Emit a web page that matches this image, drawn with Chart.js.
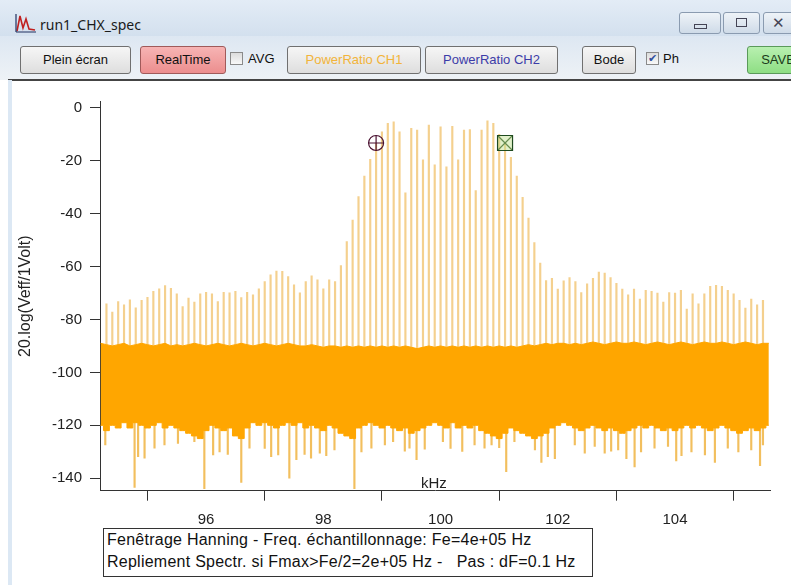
<!DOCTYPE html>
<html>
<head>
<meta charset="utf-8">
<script src="https://cdn.jsdelivr.net/npm/chart.js@4.4.0/dist/chart.umd.min.js"></script>
<style>
  body { margin: 0; width: 791px; height: 585px; overflow: hidden; background: #fff;
         font-family: "Liberation Sans", Arial, sans-serif; position: relative; }
  .abs { position: absolute; }
  #titlebar { left: 0; top: 0; width: 791px; height: 36px;
              background: linear-gradient(#e3ecf6, #d3e0ee); }
  #toolbar { left: 0; top: 36px; width: 791px; height: 44px; background: linear-gradient(#dde7f2, #eef2f6); }
  #title { left: 40px; top: 15px; font-size: 14px; color: #1a1a1a; font-family: "Noto Sans", "DejaVu Sans", sans-serif; }
  .btn { position: absolute; top: 46px; height: 26px; border: 1px solid #707070; border-radius: 3px;
         background: linear-gradient(#f6f6f6, #dedede); font-size: 13px; text-align: center; line-height: 26px; color: #111; }
  .chk { position: absolute; top: 52px; width: 11px; height: 11px; border: 1px solid #8a8a8a;
         background: linear-gradient(#dcdcdc, #f8f8f8); font-size: 11px; line-height: 11px; text-align: center; color: #3050a0; }
  .lbl { position: absolute; top: 51px; font-size: 13px; color: #111; }
  .winbtn { position: absolute; top: 12px; height: 20px; border: 1px solid #8a9bb0; border-radius: 3px;
            background: linear-gradient(#eef3f8, #cfdbe8); }
  #frame { left: 8px; top: 80px; width: 4px; height: 505px; background: #dce8f4; }
  #sep { left: 8px; top: 79px; width: 783px; height: 2px; background: #444; }
  #khz { left: 421px; top: 474px; font-size: 15px; color: #222; }
  #info { left: 103px; top: 528px; width: 485px; height: 47px; border: 1px solid #333; background: #fff;
          font-size: 16px; line-height: 22px; padding-left: 3px; color: #111; white-space: pre; letter-spacing: 0.25px; }
  canvas { position: absolute; left: 0; top: 80px; }
</style>
</head>
<body>
<div id="titlebar" class="abs"></div>
<div id="toolbar" class="abs"></div>
<svg class="abs" style="left:15px;top:13px" width="22" height="20" viewBox="0 0 22 20">
  <path d="M2 18 L5 3 L8 15 L11 6 L14 16 L20 17" stroke="#c02020" stroke-width="1.6" fill="none"/>
  <path d="M1 19 L21 19 M1 1 L1 19" stroke="#203060" stroke-width="1.2"/>
</svg>
<div id="title" class="abs">run1_CHX_spec</div>
<div class="winbtn" style="left:679px;width:40px"><div style="position:absolute;left:14px;top:11px;width:11px;height:3px;border:1px solid #445"></div></div>
<div class="winbtn" style="left:723px;width:35px"><div style="position:absolute;left:12px;top:5px;width:9px;height:7px;border:1px solid #445"></div></div>
<div class="winbtn" style="left:763px;width:40px"><div style="position:absolute;left:8px;top:1px;font-size:15px;color:#445">&#x2715;</div></div>

<div class="btn" style="left:20px;width:109px">Plein écran</div>
<div class="btn" style="left:140px;width:84px;background:linear-gradient(#f7b4b4,#ec8e8e);border-color:#a05a5a">RealTime</div>
<div class="chk" style="left:230px"></div><div class="lbl" style="left:248px">AVG</div>
<div class="btn" style="left:287px;width:132px;color:#f2b43a">PowerRatio CH1</div>
<div class="btn" style="left:425px;width:131px;color:#3c3ca8">PowerRatio CH2</div>
<div class="btn" style="left:582px;width:52px">Bode</div>
<div class="chk" style="left:646px">&#x2714;</div><div class="lbl" style="left:663px">Ph</div>
<div class="btn" style="left:747px;width:60px;background:linear-gradient(#b8f0b0,#8ede84);border-color:#5a9a5a;color:#1a3a1a">SAVE</div>

<div id="sep" class="abs"></div>
<div id="frame" class="abs"></div>

<canvas id="spec" width="791" height="505"></canvas>

<div id="khz" class="abs">kHz</div>
<div id="info" class="abs">Fenêtrage Hanning - Freq. échantillonnage: Fe=4e+05 Hz
Repliement Spectr. si Fmax&gt;Fe/2=2e+05 Hz -   Pas : dF=0.1 Hz</div>

<script>
// raies du spectre : une raie tous les 0.1 kHz de 94.3 a 105.5 kHz (niveaux en dB)
const lineLevels = [
  -74.1, -77.2, -73.2, -74.5, -72.6, -75.6, -72.8, -71.6, -69.4, -68.4,
  -67.2, -68.2, -70.3, -75.1, -71.9, -73.4, -70.3, -69.7, -70.3, -73.2,
  -69.7, -69.9, -69.4, -71.7, -69.7, -70.7, -68.4, -65.7, -63.1, -61.7,
  -61.8, -63.8, -66.9, -69.9, -65.7, -63.5, -65.0, -68.4,
  -65.0, -65.7, -59.6, -50.6, -42.4, -33.6, -25.8, -19.5, -13.3, -9.1,
  -5.9, -5.3, -9.1, -32.1, -7.8, -8.4, -19.7, -6.5, -21.6, -7.2,
  -22.3, -7.0, -19.7, -8.4, -8.2, -31.3, -8.4, -4.9, -5.9, -10.0,
  -13.3, -18.7, -25.8, -33.8, -41.7, -50.9, -58.7, -65.3, -64.4,
  -68.5, -65.4, -64.2, -65.7, -69.8, -66.5, -64.4, -62.1, -62.5, -64.2,
  -66.3, -68.5, -70.7, -68.5, -72.3, -69.0, -69.4, -70.0, -73.4, -69.8,
  -70.0, -69.0, -76.1, -70.3, -74.1, -70.3, -67.5, -67.1, -67.5, -69.0,
  -70.3, -72.8, -75.7, -72.3, -74.5, -72.8
];
const lineFreqs = lineLevels.map((_, i) => +(94.3 + i * 0.1).toFixed(1));

// plancher de bruit : bord haut et bord bas de la bande pleine, de 94.2 a 105.6 kHz
const noiseTop = [
  -89, -89.5, -90, -89.5, -89, -90, -89.5, -89, -89.5, -90,
  -89.5, -89, -90, -89.5, -90, -89.5, -89, -89.5, -90, -89.5,
  -89, -89.5, -90, -89.5, -89, -89.5, -90, -89.5, -89, -89.5,
  -90, -89.5, -89, -89.5, -90, -90, -89.5, -90, -90.5, -90,
  -90, -90.5, -90, -90.5, -90, -90.5, -90, -90.5, -90, -90.5,
  -90, -90.5, -90, -90.5, -91, -90.5, -90, -90.5, -90, -90.5,
  -90, -90.5, -90, -90.5, -90, -90.5, -90, -90.5, -90, -90.5,
  -90, -90.5, -90, -89.5, -90, -89.5, -89, -89.5, -89, -89,
  -89.5, -89, -89.5, -89, -88.5, -89, -89.5, -89, -88.5, -89,
  -89, -88.5, -89, -89.5, -89, -88.5, -89, -89.5, -89, -88.5,
  -89, -89.5, -89, -88.5, -89, -89, -88.5, -89, -89.5, -89,
  -88.5, -89, -89.5, -89, -89
];
const noiseLow = [
  -120, -122, -120, -121, -119, -121, -119, -120, -121, -120,
  -119, -121, -120, -121, -122, -123, -124, -125, -122, -120,
  -121, -122, -121, -124, -125, -121, -119, -120, -119, -120,
  -121, -120, -119, -120, -119, -121, -120, -121, -122, -120,
  -121, -123, -124, -125, -121, -120, -119, -120, -121, -120,
  -121, -122, -121, -123, -122, -121, -120, -119, -120,
  -121, -119, -121, -120, -121, -120, -122, -123, -124, -125,
  -123, -121, -122, -123, -124, -125, -124, -123, -121, -120,
  -119, -120, -121, -122, -121, -120, -121, -122, -121, -122,
  -123, -122, -121, -120, -121, -120, -121, -122, -121, -122,
  -121, -120, -121, -120, -121, -122, -121, -120, -121, -122,
  -123, -122, -121, -122, -121, -120
];
const noiseX = noiseTop.map((_, i) => +(94.2 + i * 0.1).toFixed(1));

// creux du bruit qui descendent sous la bande
const dipFreqs = [
  94.28, 94.78, 94.84, 94.95, 95.12, 95.29, 95.52, 95.80, 95.97, 96.12,
  96.23, 96.37, 96.60, 96.74, 97.00, 97.11, 97.23, 97.42, 97.54, 97.68,
  97.79, 97.94, 98.05, 98.19, 98.53, 98.65, 98.82, 99.05, 99.19, 99.39,
  99.47, 99.59, 99.73, 100.04, 100.17, 100.37, 100.58, 100.75, 100.87, 101.00,
  101.12, 101.26, 101.61, 101.72, 101.83, 101.95, 102.29, 102.46, 102.63, 102.80,
  102.91, 103.03, 103.17, 103.31, 103.42, 103.65, 103.88, 104.02, 104.11, 104.28,
  104.51, 104.68, 104.90, 105.08, 105.30, 105.45, 105.50
];
const dipLevels = [
  -127.4, -143.5, -131.8, -132.4, -128.6, -127.4, -126.8, -126.2, -143.9, -131.2,
  -130, -131, -141.6, -128.6, -128.7, -131.8, -131.2, -140, -133, -131,
  -132.4, -130.5, -131.5, -129.3, -143.9, -130, -128.6, -127.4, -126.2, -129.8,
  -128.6, -133, -129, -126.2, -128.7, -129.9, -127.4, -128.6, -127.4, -128.4,
  -137.5, -126.2, -129.3, -134, -131.8, -132.6, -127.4, -130.5, -128, -130.5,
  -129.8, -129.3, -132.6, -135.7, -130, -128.6, -128, -133.4, -131.5, -130,
  -131.2, -134, -128.6, -130, -129.3, -135.2, -127.4
];

// curseurs A (cercle) et B (carre)
const cursorA = [98.9, -13.3];
const cursorB = [101.1, -13.3];

const yTicks = [0, -20, -40, -60, -80, -100, -120, -140];
const xTicks = [96, 98, 100, 102, 104];

const ORANGE = '#ffa600';
const RAIE = 'rgba(236,176,66,0.6)';
const FONT = { family: '"Liberation Sans", Arial, sans-serif', size: 15 };

const axisCommon = {
  grid: { display: true, drawOnChartArea: false, drawTicks: true, tickLength: 10, color: '#333' },
  border: { display: true, color: '#333', width: 1 }
};

new Chart(document.getElementById('spec'), {
  type: 'bar',
  data: {
    datasets: [
      { type: 'scatter', data: [{ x: cursorA[0], y: cursorA[1] }], pointStyle: 'circle', pointRadius: 7.5,
        borderColor: '#4a1030', backgroundColor: 'rgba(0,0,0,0)', borderWidth: 1.2, order: 0 },
      { type: 'scatter', data: [{ x: cursorA[0], y: cursorA[1] }], pointStyle: 'cross', pointRadius: 7.5,
        borderColor: '#4a1030', borderWidth: 1.2, order: 0 },
      { type: 'scatter', data: [{ x: cursorB[0], y: cursorB[1] }], pointStyle: 'rect', pointRadius: 10.6,
        borderColor: '#1f4a1f', backgroundColor: 'rgba(190,225,140,0.45)', borderWidth: 1.2, order: 0 },
      { type: 'scatter', data: [{ x: cursorB[0], y: cursorB[1] }], pointStyle: 'crossRot', pointRadius: 10.6,
        borderColor: '#1f4a1f', borderWidth: 1.2, order: 0 },
      { type: 'line', data: noiseX.map((x, i) => ({ x, y: noiseTop[i] })), fill: '+1',
        backgroundColor: ORANGE, borderColor: ORANGE, borderWidth: 1, pointRadius: 0, order: 1 },
      { type: 'line', data: noiseX.map((x, i) => ({ x, y: noiseLow[i] })), fill: false, stepped: 'middle',
        borderColor: ORANGE, borderWidth: 1, pointRadius: 0, order: 1 },
      { type: 'bar', data: lineFreqs.map((x, i) => ({ x, y: [-100, lineLevels[i]] })),
        backgroundColor: RAIE, barThickness: 1.5, grouped: false, order: 3 },
      { type: 'bar', data: dipFreqs.map((x, i) => ({ x, y: [-112, dipLevels[i]] })),
        backgroundColor: 'rgba(238,170,40,0.75)', barThickness: 1.5, grouped: false, order: 3 }
    ]
  },
  options: {
    responsive: false,
    animation: false,
    devicePixelRatio: 1,
    layout: { padding: { left: 0, top: 21.7, right: 21, bottom: 0 } },
    plugins: { legend: { display: false }, tooltip: { enabled: false } },
    scales: {
      x: {
        type: 'linear', min: 94.19, max: 105.62, offset: false,
        ...axisCommon,
        afterBuildTicks: s => { s.ticks = xTicks.map(v => ({ value: v })); },
        ticks: { color: '#222', font: FONT, padding: 10, maxRotation: 0 },
        afterFit: s => { s.height = 94.3; }
      },
      y: {
        type: 'linear', min: -144.7, max: 2.3,
        ...axisCommon,
        afterBuildTicks: s => { s.ticks = yTicks.map(v => ({ value: v })); },
        ticks: { color: '#222', font: FONT, padding: 8 },
        title: { display: true, text: '20.log(Veff/1Volt)', color: '#222',
                 font: { family: FONT.family, size: 16 }, padding: { top: 16, bottom: 0 } },
        afterFit: s => { s.width = 100; }
      }
    }
  }
});
</script>
</body>
</html>
